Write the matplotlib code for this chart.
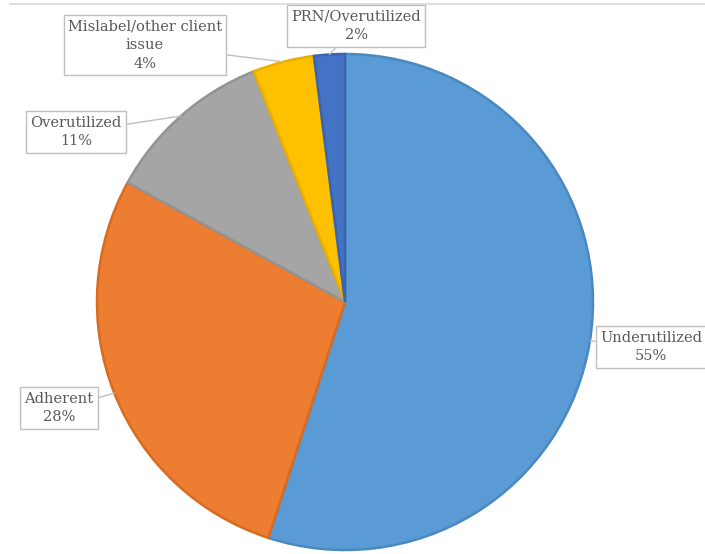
import numpy as np
import matplotlib
matplotlib.use("Agg")
import matplotlib.pyplot as plt

labels = ["Underutilized", "Adherent", "Overutilized", "Mislabel/other client\nissue", "PRN/Overutilized"]
values = [55, 28, 11, 4, 2]
colors = ["#5B9BD5", "#ED7D31", "#A5A5A5", "#FFC000", "#4472C4"]
edges = ["#4A88C2", "#D86B22", "#939393", "#E8AE00", "#3A63B0"]
# label box centres in pixels (x, y from top)
label_pos = [(651, 347), (59, 408), (76, 132), (145, 45), (356, 26)]

W, H = 705, 554
fig = plt.figure(figsize=(W / 100, H / 100), dpi=100)
ax = fig.add_axes([0, 0, 1, 1])

cx, cy, r = 345, H - 302, 248
wedges, _ = ax.pie(values, colors=colors, startangle=90, counterclock=False,
                   center=(cx, cy), radius=r, frame=True,
                   wedgeprops=dict(linewidth=1.8))
for w, e in zip(wedges, edges):
    w.set_edgecolor(e)
ax.set_xlim(0, W)
ax.set_ylim(0, H)
ax.set_aspect("equal")
ax.axis("off")

# thin line along top
ax.plot([10, W], [H - 4, H - 4], color="#d9d9d9", lw=1.2)

total = sum(values)
cum = 0
for lab, v, (lx, ly) in zip(labels, values, label_pos):
    mid = cum + v / 2
    cum += v
    ang = np.deg2rad(90 - mid / total * 360)
    px, py = cx + r * np.cos(ang), cy + r * np.sin(ang)
    ax.annotate(f"{lab}\n{v}%", xy=(px, py), xytext=(lx, H - ly),
                ha="center", va="center", fontsize=10.5, family="DejaVu Serif",
                color="#595959", linespacing=1.45,
                bbox=dict(boxstyle="square,pad=0.3", fc="white", ec="#bfbfbf", lw=1),
                arrowprops=dict(arrowstyle="-", color="#bfbfbf", lw=1, shrinkA=0, shrinkB=0))

fig.savefig("out.png", dpi=100)
